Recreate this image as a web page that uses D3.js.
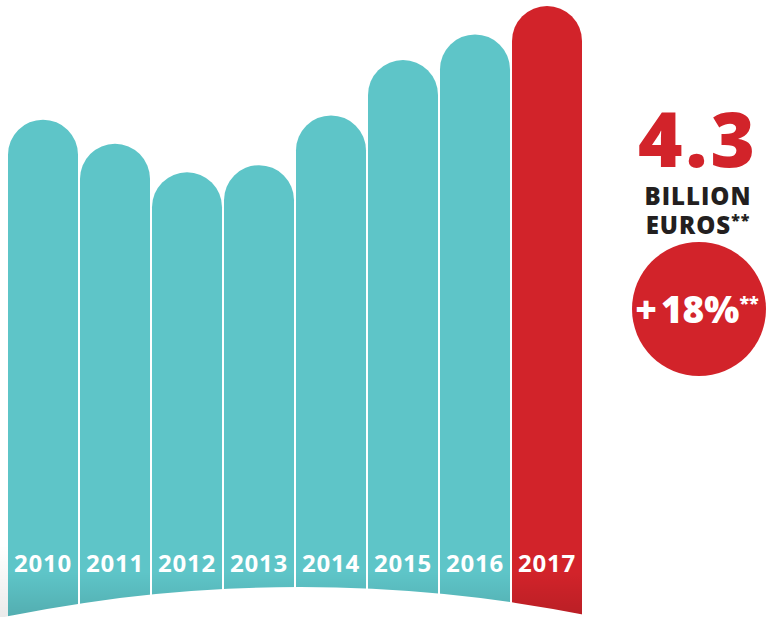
<!DOCTYPE html>
<html>
<head>
<meta charset="utf-8">
<script src="https://cdn.jsdelivr.net/npm/d3@7"></script>
<style>
  body { margin: 0; background: #fff; }
  svg { display: block; font-family: "Open Sans", sans-serif; }
</style>
</head>
<body>
<div id="chart"></div>
<script>
// chart data (billion euros)
var years = ["2010", "2011", "2012", "2013", "2014", "2015", "2016", "2017"];
var values = [3.50, 3.33, 3.13, 3.18, 3.53, 3.92, 4.10, 4.30];
var highlightYear = "2017";
var headlineValue = "4.3";
var headlineUnit = ["BILLION", "EUROS"];
var growthSign = "+";
var growthLabel = "18%";

var width = 769, height = 617;
var teal = "#5ec5c8", red = "#d2232a";

var svg = d3.select("#chart").append("svg")
  .attr("width", width)
  .attr("height", height);

var data = years.map(function (y, i) { return { year: y, value: values[i] }; });

var x = d3.scaleBand()
  .domain(years)
  .range([8, 582])
  .paddingInner(2 / 72)
  .paddingOuter(0);

var y = d3.scaleLinear()
  .domain([0, 4.3])
  .range([height, 6]);

var defs = svg.append("defs");

// darker tint towards the bottom of the bars
var shade = defs.append("linearGradient")
  .attr("id", "shade")
  .attr("x1", 0).attr("y1", 0).attr("x2", 0).attr("y2", 1);
shade.append("stop").attr("offset", "0%").attr("stop-color", "#000").attr("stop-opacity", 0);
shade.append("stop").attr("offset", "100%").attr("stop-color", "#000").attr("stop-opacity", 0.12);

var sideShadow = defs.append("linearGradient")
  .attr("id", "sideShadow")
  .attr("x1", 0).attr("y1", 0).attr("x2", 0).attr("y2", 1);
sideShadow.append("stop").attr("offset", "0%").attr("stop-color", "#000").attr("stop-opacity", 0);
sideShadow.append("stop").attr("offset", "100%").attr("stop-color", "#000").attr("stop-opacity", 0.08);

// bar with a round cap on top
function capBar(d) {
  var x0 = x(d.year), w = x.bandwidth(), r = w / 2;
  var top = y(d.value);
  return "M" + x0 + "," + height +
    "V" + (top + r) +
    "A" + r + "," + r + " 0 0 1 " + (x0 + w) + "," + (top + r) +
    "V" + height + "Z";
}

svg.append("rect")
  .attr("x", 0).attr("y", 545)
  .attr("width", 8).attr("height", height - 545)
  .attr("fill", "url(#sideShadow)");

var bars = svg.append("g").selectAll("g")
  .data(data)
  .join("g");

bars.append("path")
  .attr("d", capBar)
  .attr("fill", function (d) { return d.year === highlightYear ? red : teal; });

bars.append("rect")
  .attr("x", function (d) { return x(d.year); })
  .attr("y", 572)
  .attr("width", x.bandwidth())
  .attr("height", height - 572)
  .attr("fill", "url(#shade)");

// white curved base
svg.append("circle")
  .attr("cx", 300)
  .attr("cy", 587 + 1470)
  .attr("r", 1470)
  .attr("fill", "#fff");

// year labels
svg.append("g").selectAll("text")
  .data(data)
  .join("text")
  .attr("x", function (d) { return x(d.year) + x.bandwidth() / 2; })
  .attr("y", 572)
  .attr("text-anchor", "middle")
  .attr("fill", "#fff")
  .attr("font-weight", 700)
  .attr("font-size", 24)
  .attr("letter-spacing", 0.8)
  .text(function (d) { return d.year; });

// headline on the right
var side = svg.append("g");

side.append("text")
  .attr("x", 698).attr("y", 167)
  .attr("text-anchor", "middle")
  .attr("fill", red)
  .attr("font-weight", 800)
  .attr("font-size", 76)
  .attr("letter-spacing", 3)
  .text(headlineValue);

side.append("text")
  .attr("x", 698).attr("y", 205)
  .attr("text-anchor", "middle")
  .attr("fill", "#231f20")
  .attr("font-weight", 800)
  .attr("font-size", 24)
  .attr("letter-spacing", 1)
  .text(headlineUnit[0]);

var euros = side.append("text")
  .attr("x", 698).attr("y", 234)
  .attr("text-anchor", "middle")
  .attr("fill", "#231f20")
  .attr("font-weight", 800)
  .attr("font-size", 24)
  .attr("letter-spacing", 1);
euros.append("tspan").text(headlineUnit[1]);
euros.append("tspan").attr("font-size", 16).attr("dy", -8).text("**");

side.append("circle")
  .attr("cx", 699).attr("cy", 309)
  .attr("r", 67)
  .attr("fill", red);

var growth = side.append("text")
  .attr("x", 697).attr("y", 323)
  .attr("text-anchor", "middle")
  .attr("fill", "#fff")
  .attr("font-weight", 800)
  .attr("font-size", 37);
growth.append("tspan").text(growthSign);
growth.append("tspan").attr("dx", 4).text(growthLabel);
growth.append("tspan").attr("font-size", 18).attr("dy", -14).text("**");
</script>
</body>
</html>
